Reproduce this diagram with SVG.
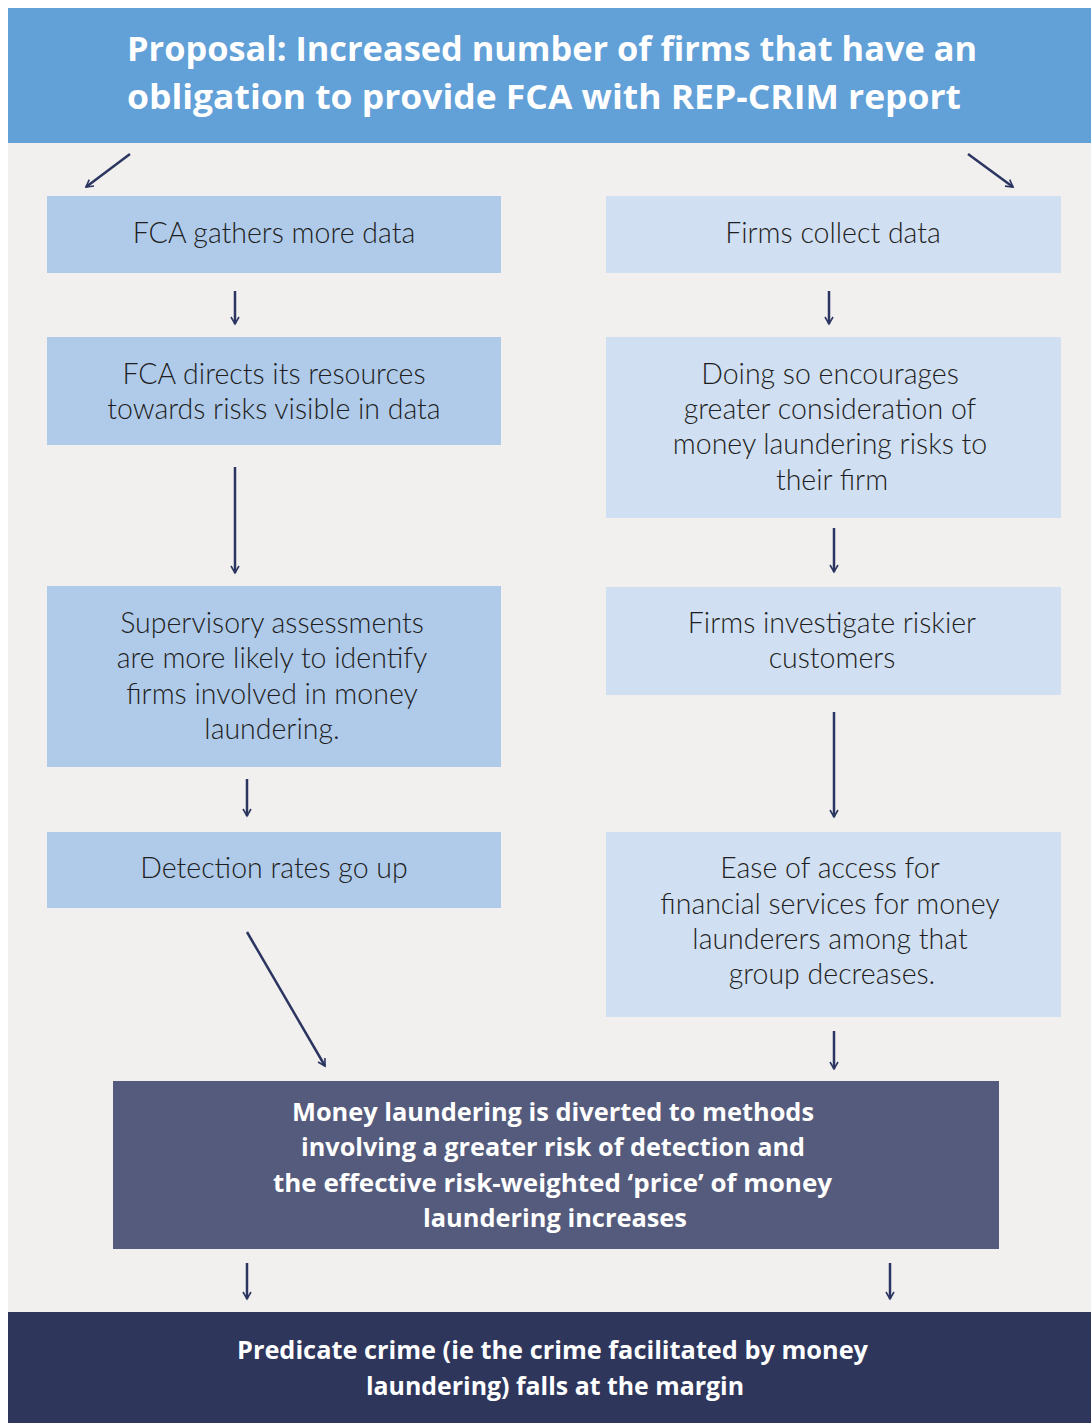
<svg xmlns="http://www.w3.org/2000/svg" width="1091" height="1423" viewBox="0 0 1091 1423">
<defs>
<style>
.body{font-family:Lato,"Open Sans","Liberation Sans",sans-serif;font-weight:300;font-size:28.5px;fill:#1e1e22;text-anchor:middle}
.head{font-family:"Open Sans","Liberation Sans",sans-serif;font-weight:700;fill:#ffffff}
.lb{fill:#b0cbea}
.rb{fill:#d0dff1}
.conn line{stroke:#2b3560;stroke-width:2.5;fill:none}
</style>
<marker id="ah" viewBox="0 0 10 10" refX="8" refY="5" markerWidth="4" markerHeight="4" orient="auto" markerUnits="strokeWidth">
<path d="M1,1 L8,5 L1,9" fill="none" stroke="#2b3560" stroke-width="1.6"/>
</marker>
</defs>
<rect x="0" y="0" width="1091" height="1423" fill="#ffffff"/>
<rect x="8" y="143" width="1083" height="1170" fill="#f1f0ef"/>

<g id="header">
<rect x="8" y="8" width="1083" height="135" fill="#62a0d8"/>
<text class="head" font-size="34" x="127" y="61" textLength="850" lengthAdjust="spacingAndGlyphs">Proposal: Increased number of firms that have an</text>
<text class="head" font-size="34" x="127" y="109" textLength="834" lengthAdjust="spacingAndGlyphs">obligation to provide FCA with REP-CRIM report</text>
</g>

<g id="n-fca-gathers">
<rect class="lb" x="47" y="196" width="454" height="77"/>
<text class="body" x="274" y="243">FCA gathers more data</text>
</g>
<g id="n-fca-directs">
<rect class="lb" x="47" y="337" width="454" height="108"/>
<text class="body" x="274" y="384">FCA directs its resources</text>
<text class="body" x="274" y="419">towards risks visible in data</text>
</g>
<g id="n-supervisory">
<rect class="lb" x="47" y="586" width="454" height="181"/>
<text class="body" x="272" y="633">Supervisory assessments</text>
<text class="body" x="272" y="668">are more likely to identify</text>
<text class="body" x="272" y="704">firms involved in money</text>
<text class="body" x="272" y="739">laundering.</text>
</g>
<g id="n-detection">
<rect class="lb" x="47" y="832" width="454" height="76"/>
<text class="body" x="274" y="878">Detection rates go up</text>
</g>

<g id="n-firms-collect">
<rect class="rb" x="606" y="196" width="455" height="77"/>
<text class="body" x="833" y="243">Firms collect data</text>
</g>
<g id="n-doing-so">
<rect class="rb" x="606" y="337" width="455" height="181"/>
<text class="body" x="830" y="384">Doing so encourages</text>
<text class="body" x="830" y="419">greater consideration of</text>
<text class="body" x="830" y="454">money laundering risks to</text>
<text class="body" x="832" y="490">their firm</text>
</g>
<g id="n-investigate">
<rect class="rb" x="606" y="587" width="455" height="108"/>
<text class="body" x="832" y="633">Firms investigate riskier</text>
<text class="body" x="832" y="668">customers</text>
</g>
<g id="n-ease">
<rect class="rb" x="606" y="832" width="455" height="185"/>
<text class="body" x="830" y="878">Ease of access for</text>
<text class="body" x="830" y="914">financial services for money</text>
<text class="body" x="830" y="949">launderers among that</text>
<text class="body" x="832" y="984">group decreases.</text>
</g>

<g id="n-diverted">
<rect x="113" y="1081" width="886" height="168" fill="#545b7c"/>
<text class="head" font-size="25" x="292" y="1121" textLength="522" lengthAdjust="spacingAndGlyphs">Money laundering is diverted to methods</text>
<text class="head" font-size="25" x="301" y="1156" textLength="504" lengthAdjust="spacingAndGlyphs">involving a greater risk of detection and</text>
<text class="head" font-size="25" x="273" y="1192" textLength="559" lengthAdjust="spacingAndGlyphs">the effective risk-weighted ‘price’ of money</text>
<text class="head" font-size="25" x="423" y="1227" textLength="264" lengthAdjust="spacingAndGlyphs">laundering increases</text>
</g>

<g id="n-predicate">
<rect x="8" y="1312" width="1083" height="111" fill="#2e365c"/>
<text class="head" font-size="25" x="237" y="1359" textLength="631" lengthAdjust="spacingAndGlyphs">Predicate crime (ie the crime facilitated by money</text>
<text class="head" font-size="25" x="366" y="1395" textLength="378" lengthAdjust="spacingAndGlyphs">laundering) falls at the margin</text>
</g>

<g id="connectors" class="conn">
<line x1="130" y1="154" x2="86" y2="187" marker-end="url(#ah)"/>
<line x1="968" y1="154" x2="1013" y2="187" marker-end="url(#ah)"/>
<line x1="235" y1="291" x2="235" y2="324" marker-end="url(#ah)"/>
<line x1="235" y1="467" x2="235" y2="573" marker-end="url(#ah)"/>
<line x1="247" y1="779" x2="247" y2="816" marker-end="url(#ah)"/>
<line x1="247" y1="932" x2="325" y2="1066" marker-end="url(#ah)"/>
<line x1="829" y1="291" x2="829" y2="324" marker-end="url(#ah)"/>
<line x1="834" y1="528" x2="834" y2="572" marker-end="url(#ah)"/>
<line x1="834" y1="712" x2="834" y2="817" marker-end="url(#ah)"/>
<line x1="834" y1="1031" x2="834" y2="1069" marker-end="url(#ah)"/>
<line x1="247" y1="1263" x2="247" y2="1299" marker-end="url(#ah)"/>
<line x1="890" y1="1263" x2="890" y2="1299" marker-end="url(#ah)"/>
</g>
</svg>
